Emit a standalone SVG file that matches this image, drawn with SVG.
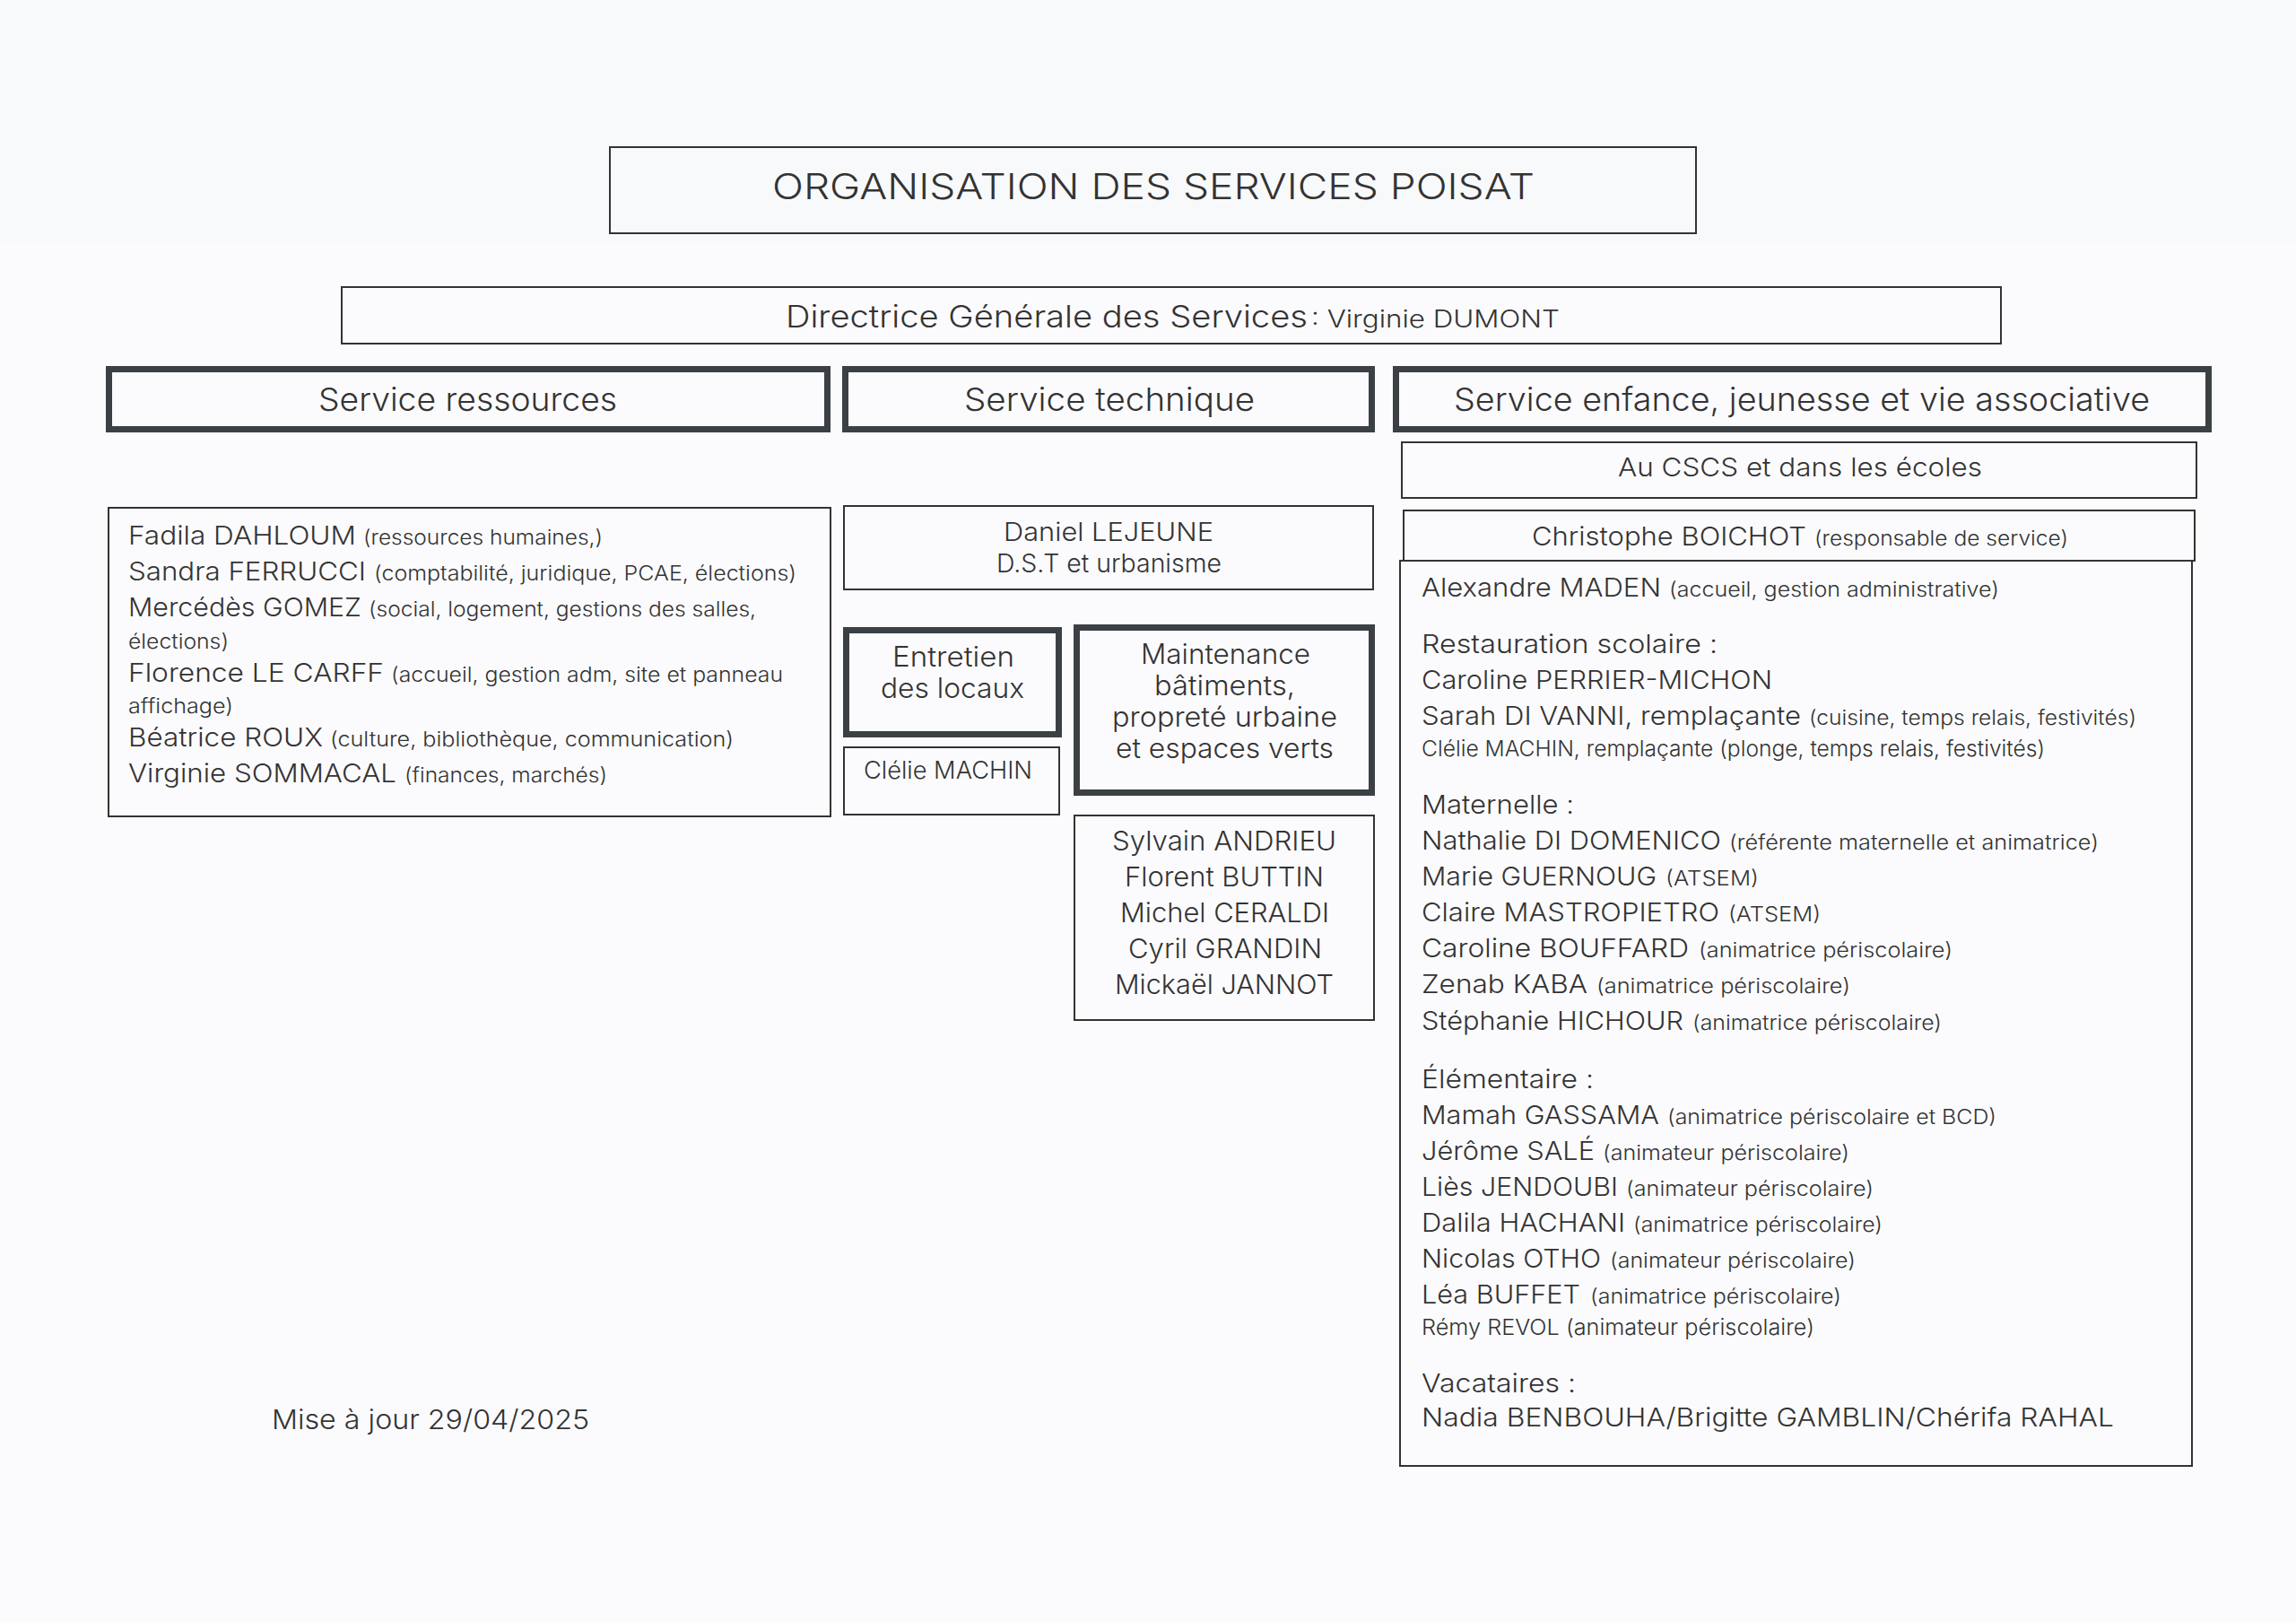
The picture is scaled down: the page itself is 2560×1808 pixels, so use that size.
<svg xmlns="http://www.w3.org/2000/svg" width="2560" height="1808" viewBox="0 0 2560 1808">
<style>
.bg{fill:#fbfbfd}
.thin{fill:none;stroke:#333;stroke-width:2}
.thick{fill:none;stroke:#3b4045;stroke-width:7}
text{font-family:Inter,"Liberation Sans",sans-serif;fill:#333;font-weight:300}
.q{font-size:23px}
.n{font-size:29px}
.s{font-size:24px}
.h{font-size:36px}
.m{font-size:31px}
</style>
<rect class="bg" x="0" y="0" width="2560" height="1808"/>
<rect x="0" y="0" width="2560" height="270" fill="#f8f9fa"/>
<g id="connectors"/>
<g id="title">
<rect class="thin" x="680" y="164" width="1211" height="96"/>
<text x="861" y="222" font-size="40" textLength="850" lengthAdjust="spacingAndGlyphs">ORGANISATION DES SERVICES POISAT</text>
</g>
<g id="dgs">
<rect class="thin" x="381" y="320" width="1850" height="63"/>
<text y="365"><tspan x="876" font-size="34" textLength="582" lengthAdjust="spacingAndGlyphs">Directrice Générale des Services</tspan><tspan x="1462" font-size="27" textLength="277" lengthAdjust="spacingAndGlyphs">: Virginie DUMONT</tspan></text>
</g>
<g id="service-ressources">
<rect class="thick" x="121.5" y="411.5" width="801" height="67"/>
<text class="h" x="355" y="458" textLength="333" lengthAdjust="spacingAndGlyphs">Service ressources</text>
</g>
<g id="service-technique">
<rect class="thick" x="942.5" y="411.5" width="587" height="67"/>
<text class="h" x="1075" y="458" textLength="324" lengthAdjust="spacingAndGlyphs">Service technique</text>
</g>
<g id="service-enfance">
<rect class="thick" x="1556.5" y="411.5" width="906" height="67"/>
<text class="h" x="1621" y="458" textLength="776" lengthAdjust="spacingAndGlyphs">Service enfance, jeunesse et vie associative</text>
</g>
<g id="ressources-staff">
<rect class="thin" x="121" y="566" width="805" height="344"/>
<text y="607"><tspan class="n" x="143" textLength="254" lengthAdjust="spacingAndGlyphs">Fadila DAHLOUM</tspan><tspan class="q" x="405" textLength="267" lengthAdjust="spacingAndGlyphs">(ressources humaines,)</tspan></text>
<text y="647"><tspan class="n" x="143" textLength="265" lengthAdjust="spacingAndGlyphs">Sandra FERRUCCI</tspan><tspan class="q" x="417" textLength="471" lengthAdjust="spacingAndGlyphs">(comptabilité, juridique, PCAE, élections)</tspan></text>
<text y="687"><tspan class="n" x="143" textLength="260" lengthAdjust="spacingAndGlyphs">Mercédès GOMEZ</tspan><tspan class="q" x="411" textLength="432" lengthAdjust="spacingAndGlyphs">(social, logement, gestions des salles,</tspan></text>
<text class="q" x="143" y="723" textLength="112" lengthAdjust="spacingAndGlyphs">élections)</text>
<text y="760"><tspan class="n" x="143" textLength="285" lengthAdjust="spacingAndGlyphs">Florence LE CARFF</tspan><tspan class="q" x="436" textLength="437" lengthAdjust="spacingAndGlyphs">(accueil, gestion adm, site et panneau</tspan></text>
<text class="q" x="143" y="795" textLength="117" lengthAdjust="spacingAndGlyphs">affichage)</text>
<text y="832"><tspan class="n" x="143" textLength="217" lengthAdjust="spacingAndGlyphs">Béatrice ROUX</tspan><tspan class="q" x="368" textLength="450" lengthAdjust="spacingAndGlyphs">(culture, bibliothèque, communication)</tspan></text>
<text y="872"><tspan class="n" x="143" textLength="299" lengthAdjust="spacingAndGlyphs">Virginie SOMMACAL</tspan><tspan class="q" x="451" textLength="226" lengthAdjust="spacingAndGlyphs">(finances, marchés)</tspan></text>
</g>
<g id="dst">
<rect class="thin" x="941" y="564" width="590" height="93"/>
<text x="1119" y="603" font-size="28" textLength="234" lengthAdjust="spacingAndGlyphs">Daniel LEJEUNE</text>
<text x="1111" y="638" font-size="28" textLength="251" lengthAdjust="spacingAndGlyphs">D.S.T et urbanisme</text>
</g>
<g id="entretien">
<rect class="thick" x="943.5" y="702.5" width="237" height="116"/>
<text class="m" x="995" y="743" textLength="136" lengthAdjust="spacingAndGlyphs">Entretien</text>
<text class="m" x="982" y="778" textLength="160" lengthAdjust="spacingAndGlyphs">des locaux</text>
</g>
<g id="entretien-staff">
<rect class="thin" x="941" y="833" width="240" height="75"/>
<text x="963" y="868" font-size="27" textLength="188" lengthAdjust="spacingAndGlyphs">Clélie MACHIN</text>
</g>
<g id="maintenance">
<rect class="thick" x="1200.5" y="699.5" width="329" height="184"/>
<text class="m" x="1272" y="740" textLength="189" lengthAdjust="spacingAndGlyphs">Maintenance</text>
<text class="m" x="1287" y="775" textLength="157" lengthAdjust="spacingAndGlyphs">bâtiments,</text>
<text class="m" x="1240" y="810" textLength="251" lengthAdjust="spacingAndGlyphs">propreté urbaine</text>
<text class="m" x="1244" y="845" textLength="243" lengthAdjust="spacingAndGlyphs">et espaces verts</text>
</g>
<g id="maintenance-staff">
<rect class="thin" x="1198" y="909" width="334" height="228"/>
<text x="1240" y="948" font-size="30" textLength="250" lengthAdjust="spacingAndGlyphs">Sylvain ANDRIEU</text>
<text x="1254" y="988" font-size="30" textLength="222" lengthAdjust="spacingAndGlyphs">Florent BUTTIN</text>
<text x="1249" y="1028" font-size="30" textLength="233" lengthAdjust="spacingAndGlyphs">Michel CERALDI</text>
<text x="1258" y="1068" font-size="30" textLength="216" lengthAdjust="spacingAndGlyphs">Cyril GRANDIN</text>
<text x="1243" y="1108" font-size="30" textLength="244" lengthAdjust="spacingAndGlyphs">Mickaël JANNOT</text>
</g>
<g id="cscs">
<rect class="thin" x="1563" y="493" width="886" height="62"/>
<text x="1804" y="531" font-size="29" textLength="406" lengthAdjust="spacingAndGlyphs">Au CSCS et dans les écoles</text>
</g>
<g id="responsable">
<rect class="thin" x="1565" y="569" width="882" height="56"/>
<text y="608"><tspan x="1708" font-size="29" textLength="306" lengthAdjust="spacingAndGlyphs">Christophe BOICHOT</tspan><tspan class="q" x="2023" textLength="283" lengthAdjust="spacingAndGlyphs">(responsable de service)</tspan></text>
</g>
<g id="enfance-staff">
<rect class="thin" x="1561" y="625" width="883" height="1009"/>
<text y="665"><tspan class="n" x="1585" textLength="267" lengthAdjust="spacingAndGlyphs">Alexandre MADEN</tspan><tspan class="q" x="1861" textLength="368" lengthAdjust="spacingAndGlyphs">(accueil, gestion administrative)</tspan></text>
<text class="n" x="1585" y="728" textLength="330" lengthAdjust="spacingAndGlyphs">Restauration scolaire :</text>
<text class="n" x="1585" y="768" textLength="391" lengthAdjust="spacingAndGlyphs">Caroline PERRIER-MICHON</text>
<text y="808"><tspan class="n" x="1585" textLength="423" lengthAdjust="spacingAndGlyphs">Sarah DI VANNI, remplaçante</tspan><tspan class="q" x="2017" textLength="365" lengthAdjust="spacingAndGlyphs">(cuisine, temps relais, festivités)</tspan></text>
<text class="s" x="1585" y="843" textLength="695" lengthAdjust="spacingAndGlyphs">Clélie MACHIN, remplaçante (plonge, temps relais, festivités)</text>
<text class="n" x="1585" y="907" textLength="170" lengthAdjust="spacingAndGlyphs">Maternelle :</text>
<text y="947"><tspan class="n" x="1585" textLength="334" lengthAdjust="spacingAndGlyphs">Nathalie DI DOMENICO</tspan><tspan class="q" x="1928" textLength="412" lengthAdjust="spacingAndGlyphs">(référente maternelle et animatrice)</tspan></text>
<text y="987"><tspan class="n" x="1585" textLength="262" lengthAdjust="spacingAndGlyphs">Marie GUERNOUG</tspan><tspan class="q" x="1857" textLength="104" lengthAdjust="spacingAndGlyphs">(ATSEM)</tspan></text>
<text y="1027"><tspan class="n" x="1585" textLength="332" lengthAdjust="spacingAndGlyphs">Claire MASTROPIETRO</tspan><tspan class="q" x="1927" textLength="103" lengthAdjust="spacingAndGlyphs">(ATSEM)</tspan></text>
<text y="1067"><tspan class="n" x="1585" textLength="298" lengthAdjust="spacingAndGlyphs">Caroline BOUFFARD</tspan><tspan class="q" x="1894" textLength="283" lengthAdjust="spacingAndGlyphs">(animatrice périscolaire)</tspan></text>
<text y="1107"><tspan class="n" x="1585" textLength="185" lengthAdjust="spacingAndGlyphs">Zenab KABA</tspan><tspan class="q" x="1780" textLength="283" lengthAdjust="spacingAndGlyphs">(animatrice périscolaire)</tspan></text>
<text y="1148"><tspan class="n" x="1585" textLength="292" lengthAdjust="spacingAndGlyphs">Stéphanie HICHOUR</tspan><tspan class="q" x="1887" textLength="278" lengthAdjust="spacingAndGlyphs">(animatrice périscolaire)</tspan></text>
<text class="n" x="1585" y="1213" textLength="192" lengthAdjust="spacingAndGlyphs">Élémentaire :</text>
<text y="1253"><tspan class="n" x="1585" textLength="265" lengthAdjust="spacingAndGlyphs">Mamah GASSAMA</tspan><tspan class="q" x="1859" textLength="367" lengthAdjust="spacingAndGlyphs">(animatrice périscolaire et BCD)</tspan></text>
<text y="1293"><tspan class="n" x="1585" textLength="193" lengthAdjust="spacingAndGlyphs">Jérôme SALÉ</tspan><tspan class="q" x="1787" textLength="275" lengthAdjust="spacingAndGlyphs">(animateur périscolaire)</tspan></text>
<text y="1333"><tspan class="n" x="1585" textLength="219" lengthAdjust="spacingAndGlyphs">Liès JENDOUBI</tspan><tspan class="q" x="1813" textLength="276" lengthAdjust="spacingAndGlyphs">(animateur périscolaire)</tspan></text>
<text y="1373"><tspan class="n" x="1585" textLength="227" lengthAdjust="spacingAndGlyphs">Dalila HACHANI</tspan><tspan class="q" x="1821" textLength="278" lengthAdjust="spacingAndGlyphs">(animatrice périscolaire)</tspan></text>
<text y="1413"><tspan class="n" x="1585" textLength="200" lengthAdjust="spacingAndGlyphs">Nicolas OTHO</tspan><tspan class="q" x="1795" textLength="274" lengthAdjust="spacingAndGlyphs">(animateur périscolaire)</tspan></text>
<text y="1453"><tspan class="n" x="1585" textLength="177" lengthAdjust="spacingAndGlyphs">Léa BUFFET</tspan><tspan class="q" x="1773" textLength="280" lengthAdjust="spacingAndGlyphs">(animatrice périscolaire)</tspan></text>
<text class="s" x="1585" y="1488" textLength="438" lengthAdjust="spacingAndGlyphs">Rémy REVOL (animateur périscolaire)</text>
<text class="n" x="1585" y="1552" textLength="172" lengthAdjust="spacingAndGlyphs">Vacataires :</text>
<text class="n" x="1585" y="1590" textLength="772" lengthAdjust="spacingAndGlyphs">Nadia BENBOUHA/Brigitte GAMBLIN/Chérifa RAHAL</text>
</g>
<g id="update-date">
<text x="303" y="1593" font-size="30" textLength="354" lengthAdjust="spacingAndGlyphs">Mise à jour 29/04/2025</text>
</g>
</svg>
